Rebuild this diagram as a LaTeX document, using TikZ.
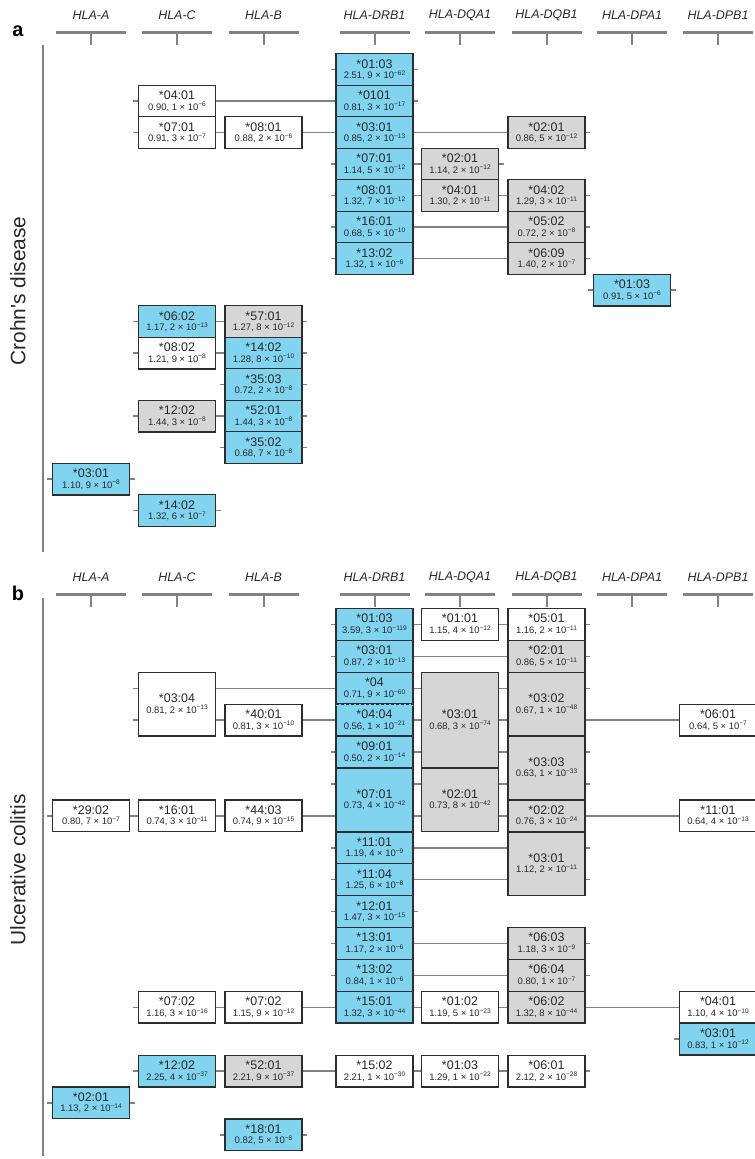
\documentclass[tikz,border=0pt]{standalone}
\usepackage{fontspec}
\setmainfont{Liberation Sans}
\usetikzlibrary{backgrounds}
\definecolor{cblue}{RGB}{128,212,240}
\definecolor{cgrey}{RGB}{214,214,214}
\definecolor{cline}{RGB}{130,130,130}
\definecolor{cborder}{RGB}{45,45,45}
\definecolor{ctext}{RGB}{40,40,40}
\newcommand\al[2]{{\fontsize{12.5}{12.5}\selectfont #1}\\[-1.5bp]{\fontsize{9.5}{10}\selectfont #2}}
\newcommand\ex[1]{\raisebox{3.2bp}{\fontsize{6.6}{7}\selectfont −#1}}
\newcommand\rowa[1]{53.8+31.5*(#1)}
\newcommand\rowb[1]{608.5+31.9*(#1)}
\newcommand\xA{91}
\newcommand\xC{177}
\newcommand\xB{263.5}
\newcommand\xDR{374.5}
\newcommand\xQA{460}
\newcommand\xQB{546.5}
\newcommand\xPA{632}
\newcommand\xPB{718}
\newcommand\rl[3]{\draw[conn] ([xshift=-4.5bp]#1.west |- #3) -- ([xshift=4.5bp]#2.east |- #3);}
\begin{document}
\begin{tikzpicture}[x=1bp,y=-1bp,
  allele/.style={draw=cborder, line width=1.3bp, inner sep=0pt, minimum width=77bp,
    minimum height=31.7bp, align=center, text=ctext},
  wht/.style={allele, fill=white},
  blu/.style={allele, fill=cblue},
  gry/.style={allele, fill=cgrey},
  tall2/.style={minimum height=63.7bp},
  tall3/.style={minimum height=95.6bp},
  conn/.style={draw=cline, line width=1.5bp},
  hdrline/.style={draw=cline, line width=3bp},
  hdr/.style={font=\fontsize{12.5}{13}\selectfont\itshape, text=ctext},
  side/.style={font=\fontsize{21}{21}\selectfont, text=ctext, rotate=90},
  plab/.style={font=\fontsize{20}{20}\selectfont\bfseries, text=black}]
\useasboundingbox (0,0) rectangle (755,1159);

% ---------- headers ----------
\foreach \x/\t/\n in {\xA/HLA-A/A,\xC/HLA-C/C,\xB/HLA-B/B,\xDR/HLA-DRB1/DR,\xQA/HLA-DQA1/QA,\xQB/HLA-DQB1/QB,\xPA/HLA-DPA1/PA,\xPB/HLA-DPB1/PB}{
  \node[hdr] (ha-\n) at (\x,15) {\t};
  \draw[hdrline] (\x-35,32) -- (\x+35,32);
  \draw[hdrline, line width=2bp] (\x,32) -- (\x,45);
  \node[hdr] (hb-\n) at (\x,577) {\t};
  \draw[hdrline] (\x-35,594) -- (\x+35,594);
  \draw[hdrline, line width=2bp] (\x,594) -- (\x,607);
}
\node[plab] (pa) at (18,31) {a};
\node[plab] (pb) at (18,593) {b};
\draw[hdrline, line width=2.5bp] (43,45) -- (43,552);
\draw[hdrline, line width=2.5bp] (43,598) -- (43,1156);
\node[side] (la) at (18,291) {Crohn\textquotesingle s disease};
\node[side] (lb) at (18,870) {Ulcerative colitis};

\foreach \r in {0,...,14} \coordinate (ra\r) at (0,{\rowa{\r+0.5}});
\foreach \r in {0,...,16} \coordinate (rb\r) at (0,{\rowb{\r+0.5}});

% ---------- panel a ----------
\node[blu] (a-drb-0103) at (\xDR,{\rowa{0.5}}) {\al{*01:03}{2.51, 9 × 10\ex{62}}};
\node[wht] (a-c-0401) at (\xC,{\rowa{1.5}}) {\al{*04:01}{0.90, 1 × 10\ex{6}}};
\node[blu] (a-drb-0101) at (\xDR,{\rowa{1.5}}) {\al{*0101}{0.81, 3 × 10\ex{17}}};
\node[wht] (a-c-0701) at (\xC,{\rowa{2.5}}) {\al{*07:01}{0.91, 3 × 10\ex{7}}};
\node[wht] (a-b-0801) at (\xB,{\rowa{2.5}}) {\al{*08:01}{0.88, 2 × 10\ex{6}}};
\node[blu] (a-drb-0301) at (\xDR,{\rowa{2.5}}) {\al{*03:01}{0.85, 2 × 10\ex{13}}};
\node[gry] (a-dqb-0201) at (\xQB,{\rowa{2.5}}) {\al{*02:01}{0.86, 5 × 10\ex{12}}};
\node[blu] (a-drb-0701) at (\xDR,{\rowa{3.5}}) {\al{*07:01}{1.14, 5 × 10\ex{12}}};
\node[gry] (a-dqa-0201) at (\xQA,{\rowa{3.5}}) {\al{*02:01}{1.14, 2 × 10\ex{12}}};
\node[blu] (a-drb-0801) at (\xDR,{\rowa{4.5}}) {\al{*08:01}{1.32, 7 × 10\ex{12}}};
\node[gry] (a-dqa-0401) at (\xQA,{\rowa{4.5}}) {\al{*04:01}{1.30, 2 × 10\ex{11}}};
\node[gry] (a-dqb-0402) at (\xQB,{\rowa{4.5}}) {\al{*04:02}{1.29, 3 × 10\ex{11}}};
\node[blu] (a-drb-1601) at (\xDR,{\rowa{5.5}}) {\al{*16:01}{0.68, 5 × 10\ex{10}}};
\node[gry] (a-dqb-0502) at (\xQB,{\rowa{5.5}}) {\al{*05:02}{0.72, 2 × 10\ex{8}}};
\node[blu] (a-drb-1302) at (\xDR,{\rowa{6.5}}) {\al{*13:02}{1.32, 1 × 10\ex{6}}};
\node[gry] (a-dqb-0609) at (\xQB,{\rowa{6.5}}) {\al{*06:09}{1.40, 2 × 10\ex{7}}};
\node[blu] (a-dpa-0103) at (\xPA,{\rowa{7.5}}) {\al{*01:03}{0.91, 5 × 10\ex{6}}};
\node[blu] (a-c-0602) at (\xC,{\rowa{8.5}}) {\al{*06:02}{1.17, 2 × 10\ex{13}}};
\node[gry] (a-b-5701) at (\xB,{\rowa{8.5}}) {\al{*57:01}{1.27, 8 × 10\ex{12}}};
\node[wht] (a-c-0802) at (\xC,{\rowa{9.5}}) {\al{*08:02}{1.21, 9 × 10\ex{8}}};
\node[blu] (a-b-1402) at (\xB,{\rowa{9.5}}) {\al{*14:02}{1.28, 8 × 10\ex{10}}};
\node[blu] (a-b-3503) at (\xB,{\rowa{10.5}}) {\al{*35:03}{0.72, 2 × 10\ex{8}}};
\node[gry] (a-c-1202) at (\xC,{\rowa{11.5}}) {\al{*12:02}{1.44, 3 × 10\ex{8}}};
\node[blu] (a-b-5201) at (\xB,{\rowa{11.5}}) {\al{*52:01}{1.44, 3 × 10\ex{8}}};
\node[blu] (a-b-3502) at (\xB,{\rowa{12.5}}) {\al{*35:02}{0.68, 7 × 10\ex{8}}};
\node[blu] (a-a-0301) at (\xA,{\rowa{13.5}}) {\al{*03:01}{1.10, 9 × 10\ex{8}}};
\node[blu] (a-c-1402) at (\xC,{\rowa{14.5}}) {\al{*14:02}{1.32, 6 × 10\ex{7}}};

% ---------- panel b ----------
\node[blu] (b-drb-0103) at (\xDR,{\rowb{0.5}}) {\al{*01:03}{3.59, 3 × 10\ex{119}}};
\node[wht] (b-dqa-0101) at (\xQA,{\rowb{0.5}}) {\al{*01:01}{1.15, 4 × 10\ex{12}}};
\node[wht] (b-dqb-0501) at (\xQB,{\rowb{0.5}}) {\al{*05:01}{1.16, 2 × 10\ex{11}}};
\node[blu] (b-drb-0301) at (\xDR,{\rowb{1.5}}) {\al{*03:01}{0.87, 2 × 10\ex{13}}};
\node[gry] (b-dqb-0201) at (\xQB,{\rowb{1.5}}) {\al{*02:01}{0.86, 5 × 10\ex{11}}};
\node[wht,tall2] (b-c-0304) at (\xC,{\rowb{3}}) {\al{*03:04}{0.81, 2 × 10\ex{13}}};
\node[blu] (b-drb-04) at (\xDR,{\rowb{2.5}}) {\al{*04}{0.71, 9 × 10\ex{60}}};
\node[gry,tall3] (b-dqa-0301) at (\xQA,{\rowb{3.5}}) {\al{*03:01}{0.68, 3 × 10\ex{74}}};
\node[gry,tall2] (b-dqb-0302) at (\xQB,{\rowb{3}}) {\al{*03:02}{0.67, 1 × 10\ex{48}}};
\node[wht] (b-b-4001) at (\xB,{\rowb{3.5}}) {\al{*40:01}{0.81, 3 × 10\ex{10}}};
\node[blu] (b-drb-0404) at (\xDR,{\rowb{3.5}}) {\al{*04:04}{0.56, 1 × 10\ex{21}}};
\node[wht] (b-dpb-0601) at (\xPB,{\rowb{3.5}}) {\al{*06:01}{0.64, 5 × 10\ex{7}}};
\node[blu] (b-drb-0901) at (\xDR,{\rowb{4.5}}) {\al{*09:01}{0.50, 2 × 10\ex{14}}};
\node[gry,tall2] (b-dqb-0303) at (\xQB,{\rowb{5}}) {\al{*03:03}{0.63, 1 × 10\ex{33}}};
\node[blu,tall2] (b-drb-0701) at (\xDR,{\rowb{6}}) {\al{*07:01}{0.73, 4 × 10\ex{42}}};
\node[gry,tall2] (b-dqa-0201) at (\xQA,{\rowb{6}}) {\al{*02:01}{0.73, 8 × 10\ex{42}}};
\node[wht] (b-a-2902) at (\xA,{\rowb{6.5}}) {\al{*29:02}{0.80, 7 × 10\ex{7}}};
\node[wht] (b-c-1601) at (\xC,{\rowb{6.5}}) {\al{*16:01}{0.74, 3 × 10\ex{11}}};
\node[wht] (b-b-4403) at (\xB,{\rowb{6.5}}) {\al{*44:03}{0.74, 9 × 10\ex{15}}};
\node[gry] (b-dqb-0202) at (\xQB,{\rowb{6.5}}) {\al{*02:02}{0.76, 3 × 10\ex{24}}};
\node[wht] (b-dpb-1101) at (\xPB,{\rowb{6.5}}) {\al{*11:01}{0.64, 4 × 10\ex{13}}};
\node[blu] (b-drb-1101) at (\xDR,{\rowb{7.5}}) {\al{*11:01}{1.19, 4 × 10\ex{9}}};
\node[gry,tall2] (b-dqb-0301) at (\xQB,{\rowb{8}}) {\al{*03:01}{1.12, 2 × 10\ex{11}}};
\node[blu] (b-drb-1104) at (\xDR,{\rowb{8.5}}) {\al{*11:04}{1.25, 6 × 10\ex{8}}};
\node[blu] (b-drb-1201) at (\xDR,{\rowb{9.5}}) {\al{*12:01}{1.47, 3 × 10\ex{15}}};
\node[blu] (b-drb-1301) at (\xDR,{\rowb{10.5}}) {\al{*13:01}{1.17, 2 × 10\ex{6}}};
\node[gry] (b-dqb-0603) at (\xQB,{\rowb{10.5}}) {\al{*06:03}{1.18, 3 × 10\ex{9}}};
\node[blu] (b-drb-1302) at (\xDR,{\rowb{11.5}}) {\al{*13:02}{0.84, 1 × 10\ex{6}}};
\node[gry] (b-dqb-0604) at (\xQB,{\rowb{11.5}}) {\al{*06:04}{0.80, 1 × 10\ex{7}}};
\node[wht] (b-c-0702) at (\xC,{\rowb{12.5}}) {\al{*07:02}{1.16, 3 × 10\ex{16}}};
\node[wht] (b-b-0702) at (\xB,{\rowb{12.5}}) {\al{*07:02}{1.15, 9 × 10\ex{12}}};
\node[blu] (b-drb-1501) at (\xDR,{\rowb{12.5}}) {\al{*15:01}{1.32, 3 × 10\ex{44}}};
\node[wht] (b-dqa-0102) at (\xQA,{\rowb{12.5}}) {\al{*01:02}{1.19, 5 × 10\ex{23}}};
\node[gry] (b-dqb-0602) at (\xQB,{\rowb{12.5}}) {\al{*06:02}{1.32, 8 × 10\ex{44}}};
\node[wht] (b-dpb-0401) at (\xPB,{\rowb{12.5}}) {\al{*04:01}{1.10, 4 × 10\ex{10}}};
\node[blu] (b-dpb-0301) at (\xPB,{\rowb{13.5}}) {\al{*03:01}{0.83, 1 × 10\ex{12}}};
\node[blu] (b-c-1202) at (\xC,{\rowb{14.5}}) {\al{*12:02}{2.25, 4 × 10\ex{37}}};
\node[gry] (b-b-5201) at (\xB,{\rowb{14.5}}) {\al{*52:01}{2.21, 9 × 10\ex{37}}};
\node[wht] (b-drb-1502) at (\xDR,{\rowb{14.5}}) {\al{*15:02}{2.21, 1 × 10\ex{30}}};
\node[wht] (b-dqa-0103) at (\xQA,{\rowb{14.5}}) {\al{*01:03}{1.29, 1 × 10\ex{22}}};
\node[wht] (b-dqb-0601) at (\xQB,{\rowb{14.5}}) {\al{*06:01}{2.12, 2 × 10\ex{28}}};
\node[blu] (b-a-0201) at (\xA,{\rowb{15.5}}) {\al{*02:01}{1.13, 2 × 10\ex{14}}};
\node[blu] (b-b-1801) at (\xB,{\rowb{16.5}}) {\al{*18:01}{0.82, 5 × 10\ex{8}}};

% dashed divider between *04 and *04:04
\draw[cblue, line width=1.6bp] ([xshift=0.8bp]b-drb-04.south west) -- ([xshift=-0.8bp]b-drb-04.south east);
\draw[cborder, line width=1.2bp, dash pattern=on 3bp off 2bp] ([xshift=0.8bp]b-drb-04.south west) -- ([xshift=-0.8bp]b-drb-04.south east);

% ---------- connectors ----------
\begin{pgfonlayer}{background}
\rl{a-drb-0103}{a-drb-0103}{ra0}
\rl{a-c-0401}{a-drb-0101}{ra1}
\rl{a-c-0701}{a-dqb-0201}{ra2}
\rl{a-drb-0701}{a-dqa-0201}{ra3}
\rl{a-drb-0801}{a-dqb-0402}{ra4}
\rl{a-drb-1601}{a-dqb-0502}{ra5}
\rl{a-drb-1302}{a-dqb-0609}{ra6}
\rl{a-dpa-0103}{a-dpa-0103}{ra7}
\rl{a-c-0602}{a-b-5701}{ra8}
\rl{a-c-0802}{a-b-1402}{ra9}
\rl{a-b-3503}{a-b-3503}{ra10}
\rl{a-c-1202}{a-b-5201}{ra11}
\rl{a-b-3502}{a-b-3502}{ra12}
\rl{a-a-0301}{a-a-0301}{ra13}
\rl{a-c-1402}{a-c-1402}{ra14}
\rl{b-drb-0103}{b-dqb-0501}{rb0}
\rl{b-drb-0301}{b-dqb-0201}{rb1}
\rl{b-c-0304}{b-dqb-0302}{rb2}
\rl{b-c-0304}{b-dpb-0601}{rb3}
\rl{b-drb-0901}{b-dqb-0303}{rb4}
\rl{b-drb-0701}{b-dqb-0303}{rb5}
\rl{b-a-2902}{b-dpb-1101}{rb6}
\rl{b-drb-1101}{b-dqb-0301}{rb7}
\rl{b-drb-1104}{b-dqb-0301}{rb8}
\rl{b-drb-1201}{b-drb-1201}{rb9}
\rl{b-drb-1301}{b-dqb-0603}{rb10}
\rl{b-drb-1302}{b-dqb-0604}{rb11}
\rl{b-c-0702}{b-dpb-0401}{rb12}
\rl{b-dpb-0301}{b-dpb-0301}{rb13}
\rl{b-c-1202}{b-dqb-0601}{rb14}
\rl{b-a-0201}{b-a-0201}{rb15}
\rl{b-b-1801}{b-b-1801}{rb16}
\end{pgfonlayer}
\end{tikzpicture}
\end{document}
